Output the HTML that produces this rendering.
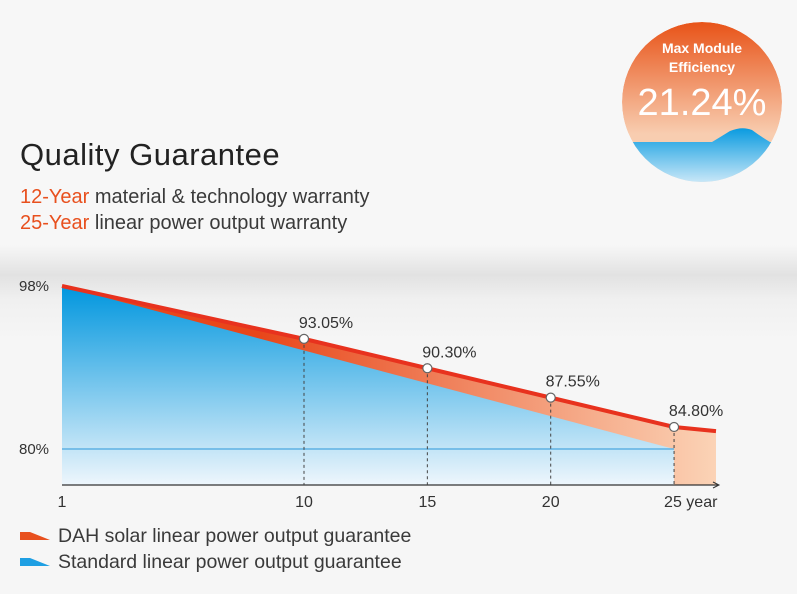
<!DOCTYPE html>
<html><head><meta charset="utf-8"><style>
body{margin:0;width:797px;height:594px;overflow:hidden;background:#f6f6f6;font-family:"Liberation Sans","DejaVu Sans",sans-serif;}
#wrap{position:relative;width:797px;height:594px;background:linear-gradient(#f7f7f7 0,#f7f7f7 245px,#e2e2e2 275px,#f0f0f0 300px,#f6f6f6 340px,#f6f6f6 100%);}
.t{position:absolute;white-space:nowrap;color:#3a3a3a;}
</style></head><body>
<div id="wrap">
<div class="t" style="left:20px;top:137px;font-size:31px;color:#222;letter-spacing:0.5px;">Quality Guarantee</div>
<div class="t" style="left:20px;top:186px;font-size:20px;"><span style="color:#e8501e">12-Year</span> material &amp; technology warranty</div>
<div class="t" style="left:20px;top:212px;font-size:20px;"><span style="color:#e8501e">25-Year</span> linear power output warranty</div>

<svg width="797" height="594" style="position:absolute;left:0;top:0">
<defs>
<linearGradient id="bg" x1="0" y1="0" x2="0" y2="1"><stop offset="0" stop-color="#0096de"/><stop offset="1" stop-color="#eef6fc"/></linearGradient>
<linearGradient id="og" x1="0" y1="0" x2="1" y2="0"><stop offset="0.3" stop-color="#e8461a"/><stop offset="1" stop-color="#fbd3b6"/></linearGradient>
<linearGradient id="cg" x1="0" y1="0" x2="0" y2="1"><stop offset="0" stop-color="#e85318"/><stop offset="0.7" stop-color="#f8cdb0"/></linearGradient>
<linearGradient id="wg" x1="0" y1="0" x2="0" y2="1"><stop offset="0" stop-color="#0a9be0"/><stop offset="1" stop-color="#e4f2fb"/></linearGradient>
<clipPath id="cc"><circle cx="702" cy="102" r="80"/></clipPath>
</defs>
<g id="plot"></g>
<g clip-path="url(#cc)">
<circle cx="702" cy="102" r="80" fill="url(#cg)"/>
<path d="M620 142 L712 142 Q722 136 730 131 Q742 126 752 130 Q760 136 770 142 L790 142 L790 190 L620 190Z" fill="url(#wg)"/>
<text x="702" y="53" text-anchor="middle" font-size="14" font-weight="bold" fill="#fff">Max Module</text>
<text x="702" y="72" text-anchor="middle" font-size="14" font-weight="bold" fill="#fff">Efficiency</text>
<text x="702" y="115" text-anchor="middle" font-size="38" fill="#fff">21.24%</text>
</g>
<g>
<polygon points="20,532 30,532 50,540 20,540" fill="#e8501e"/>
<text x="58" y="542" font-size="19.5" fill="#3a3a3a">DAH solar linear power output guarantee</text>
<polygon points="20,558 30,558 50,566 20,566" fill="#1e9fe3"/>
<text x="58" y="568" font-size="19.5" fill="#3a3a3a">Standard linear power output guarantee</text>
</g>
</svg>
</div>
<script>
const years=[1,10,15,20,25,26.7];
const dahValues=[98,93.05,90.30,87.55,84.80,83.9];
const stdYears=[1,25];
const stdValues=[98,80];
const pointLabels=["93.05%","90.30%","87.55%","84.80%"];
const xTicks=[1,10,15,20,25];
const xTickLabels=["1","10","15","20","25 year"];
const yTicks=[98,80];
const yTickLabels=["98%","80%"];
const xK=[1,10,26.7],xP=[62,304,716];
const yK=[80,84.8,98],yP=[449,427,286];
function interp(v,K,P){let i=0;while(i<K.length-2&&v>K[i+1])i++;return P[i]+(v-K[i])*(P[i+1]-P[i])/(K[i+1]-K[i]);}
const X=v=>interp(v,xK,xP), Y=v=>interp(v,yK,yP), base=485;
const NS="http://www.w3.org/2000/svg",g=document.getElementById('plot');
function mk(t,a){const e=document.createElementNS(NS,t);for(const k in a)e.setAttribute(k,a[k]);g.appendChild(e);return e;}
let d="M"+X(years[0])+","+base;years.forEach((y,i)=>d+=" L"+X(y)+","+Y(dahValues[i]));d+=" L"+X(years[years.length-1])+","+base+"Z";
let e=mk('path',{d:d,fill:'url(#og)'});


d="M"+X(stdYears[0])+","+base;stdYears.forEach((y,i)=>d+=" L"+X(y)+","+Y(stdValues[i]));d+=" L"+X(stdYears[1])+","+base+"Z";
e=mk('path',{d:d,fill:'url(#bg)'});


e=mk('line',{x1:X(1),x2:X(25),y1:Y(80),y2:Y(80),stroke:'#4aa6e0','stroke-width':1.2});


e=mk('polyline',{points:years.map((y,i)=>X(y)+","+Y(dahValues[i])).join(" "),fill:'none',stroke:'#e8321e','stroke-width':4});


e=mk('line',{x1:X(1),x2:X(26.7)+2,y1:base,y2:base,stroke:'#333','stroke-width':1.2});


e=mk('path',{d:`M${X(26.7)-3},${base-3} L${X(26.7)+3},${base} L${X(26.7)-3},${base+3}`,fill:'none',stroke:'#333'});


xTicks.forEach((t,i)=>{
 const tx=mk('text',{x:X(t),y:base+22,'font-size':16,fill:'#333','text-anchor':i==xTicks.length-1?'start':'middle'});
 if(i==xTicks.length-1)tx.setAttribute('x',X(t)-10);
 tx.textContent=xTickLabels[i];
 
 
});
yTicks.forEach((t,i)=>{
 const tx=mk('text',{x:19,y:Y(t)+5,'font-size':15,fill:'#333'});
 tx.textContent=yTickLabels[i];
 
 
});
for(let i=1;i<=4;i++){
 const px=X(years[i]),py=Y(dahValues[i]);
 const l=mk('line',{x1:px,x2:px,y1:py,y2:base,stroke:'#444','stroke-dasharray':'3,3','stroke-width':1});
 
 
 const c=mk('circle',{cx:px,cy:py,r:4.5,fill:'#fff',stroke:'#666','stroke-width':1.2});
 
 
 const tx=mk('text',{x:px+22,y:py-11,'font-size':16,fill:'#333','text-anchor':'middle'});
 tx.textContent=pointLabels[i-1];
 
 
}
</script>
</body></html>
